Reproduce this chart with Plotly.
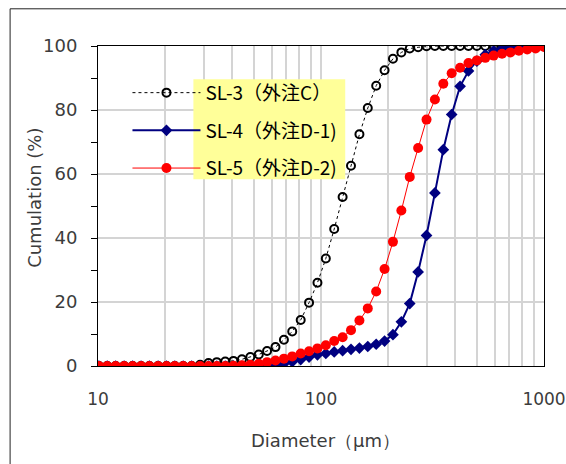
import plotly.graph_objects as go

diameter = [10.1, 11.0, 12.0, 13.1, 14.3, 15.6, 17.0, 18.6, 20.3, 22.1, 24.1, 26.3, 28.7, 31.3,
            34.1, 37.2, 40.5, 44.2, 48.2, 52.6, 57.3, 62.5, 68.2, 74.3, 81.1, 88.4, 96.4, 105.1,
            114.6, 125.0, 136.3, 148.7, 162.1, 176.8, 192.8, 210.2, 229.3, 250.0, 272.6, 297.3,
            324.2, 353.6, 385.5, 420.4, 458.5, 500.0, 545.3, 594.6, 648.4, 707.1, 771.1, 840.9,
            917.0, 1000.0]

sl3 = [0, 0, 0, 0, 0, 0, 0, 0, 0, 0, 0, 0, 0.4, 0.9,
       1.2, 1.4, 1.6, 2.1, 2.8, 3.6, 4.7, 5.9, 8.2, 10.8, 14.4, 19.8, 26.0, 33.6,
       42.8, 52.8, 62.6, 72.4, 80.6, 87.6, 92.4, 96.0, 98.0, 99.2, 99.6, 99.9,
       100, 100, 100, 100, 100, 100, 100, 100, 100, 100, 100, 100,
       100, 100]

sl4 = [0, 0, 0, 0, 0, 0, 0, 0, 0, 0, 0, 0, 0, 0,
       0, 0, 0, 0, 0, 0, 0, 0.3, 0.7, 1.3, 2.0, 2.8, 3.5, 3.9,
       4.4, 4.8, 5.2, 5.6, 6.1, 6.8, 7.8, 9.8, 13.8, 19.5, 29.4, 40.8,
       54.1, 67.6, 78.6, 87.4, 92.2, 95.3, 97.3, 98.5, 99.2, 99.6, 99.8, 99.9,
       100, 100]

sl5 = [0, 0, 0, 0, 0, 0, 0, 0, 0, 0, 0, 0, 0, 0,
       0, 0, 0.1, 0.2, 0.4, 0.7, 1.2, 1.7, 2.3, 3.0, 3.9, 4.6, 5.5, 6.5,
       7.8, 9.0, 11.2, 14.2, 18.0, 23.3, 30.3, 38.8, 48.6, 59.1, 68.1, 77.0,
       83.3, 88.2, 91.5, 93.2, 94.7, 95.5, 96.3, 97.0, 97.6, 98.0, 98.5, 98.9,
       99.2, 99.7]

names = ["SL-3（外注C）", "SL-4（外注D-1)", "SL-5（外注D-2)"]
x_title = "Diameter（μm）"
y_title = "Cumulation (%)"

fig = go.Figure()
fig.add_trace(go.Scatter(
    x=diameter, y=sl3, name=names[0], mode="lines+markers", legendgroup="a",
    line=dict(color="black", width=1, dash="dot"),
    marker=dict(symbol="circle-open", size=8, color="black", line=dict(width=2, color="black"))))
fig.add_trace(go.Scatter(
    x=diameter, y=sl4, name=names[1], mode="lines+markers", legendgroup="b",
    line=dict(color="#000080", width=2),
    marker=dict(symbol="diamond", size=9, color="#000080")))
fig.add_trace(go.Scatter(
    x=diameter, y=sl5, name=names[2], mode="lines+markers", legendgroup="c",
    line=dict(color="#ff0000", width=1),
    marker=dict(symbol="circle", size=10, color="#ff0000")))

W, H = 566, 464
L, T = 97.5, 45.7
R = W - 544
B = H - 365.7
pw, ph = W - L - R, H - T - B

def px2x(p):
    return (p - L) / pw

def px2y(p):
    return (H - B - p) / ph

gray = "#3c3c3c"
tickfont = dict(family="DejaVu Sans", size=18, color=gray)
xtickfont = dict(family="DejaVu Sans", size=17, color=gray)
titlefont = dict(family="DejaVu Sans", size=18, color=gray)

fig.update_layout(
    width=W, height=H,
    margin=dict(l=L, r=R, t=T, b=B, pad=0, autoexpand=False),
    paper_bgcolor="white", plot_bgcolor="white",
    showlegend=True,
    legend=dict(
        x=px2x(127), y=px2y(73.5), xanchor="left", yanchor="top",
        bgcolor="rgba(0,0,0,0)", borderwidth=0,
        font=dict(family="Noto Sans CJK JP", size=19, color="black"),
        traceorder="grouped", tracegroupgap=10, itemwidth=68,
    ),
    xaxis=dict(
        type="log", range=[1, 3],
        tickvals=[10, 100, 1000], ticktext=["10", "100", "1000"],
        showgrid=True, gridcolor="#d4d4d4", gridwidth=2,
        minor=dict(tickvals=[20, 30, 40, 50, 60, 70, 80, 90, 200, 300, 400, 500, 600, 700, 800, 900],
                   showgrid=True, gridcolor="#d4d4d4", gridwidth=2, ticks=""),
        ticks="", tickfont=xtickfont, ticklabelstandoff=18, ticklabeloverflow="allow",
        showline=True, linecolor="black", linewidth=1, mirror=True,
        zeroline=False,
    ),
    yaxis=dict(
        range=[0, 100], tickvals=[0, 20, 40, 60, 80, 100],
        showgrid=True, gridcolor="#d4d4d4", gridwidth=2,
        ticks="outside", ticklen=6, tickcolor="black", tickwidth=1,
        minor=dict(dtick=10, ticks="outside", ticklen=6, tickcolor="black", tickwidth=1, showgrid=False),
        tickfont=tickfont, ticklabelstandoff=10, ticklabeloverflow="allow",
        showline=True, linecolor="black", linewidth=1, mirror=True,
        zeroline=False,
    ),
    annotations=[
        dict(text=x_title, xref="paper", yref="paper", x=px2x(325), y=px2y(440),
             xanchor="center", yanchor="middle", showarrow=False, font=titlefont),
        dict(text=y_title, xref="paper", yref="paper", x=px2x(34), y=px2y(198),
             xanchor="center", yanchor="middle", showarrow=False, font=titlefont, textangle=-90),
    ],
    shapes=[
        dict(type="rect", xref="paper", yref="paper",
             x0=px2x(193), x1=px2x(345), y0=px2y(179), y1=px2y(79),
             fillcolor="#ffff99", line=dict(width=0), layer="above"),
        dict(type="line", xref="paper", yref="paper",
             x0=px2x(9.5), x1=px2x(9.5), y0=px2y(8.5), y1=px2y(480),
             line=dict(width=1, color="#222"), layer="below"),
        dict(type="line", xref="paper", yref="paper",
             x0=px2x(9.5), x1=px2x(580), y0=px2y(8.5), y1=px2y(8.5),
             line=dict(width=1, color="#222"), layer="below"),
    ],
)

fig.write_html(
    "out.html",
    config={"displayModeBar": False},
    post_script="document.body.style.margin='0';document.body.style.overflow='hidden';",
)
